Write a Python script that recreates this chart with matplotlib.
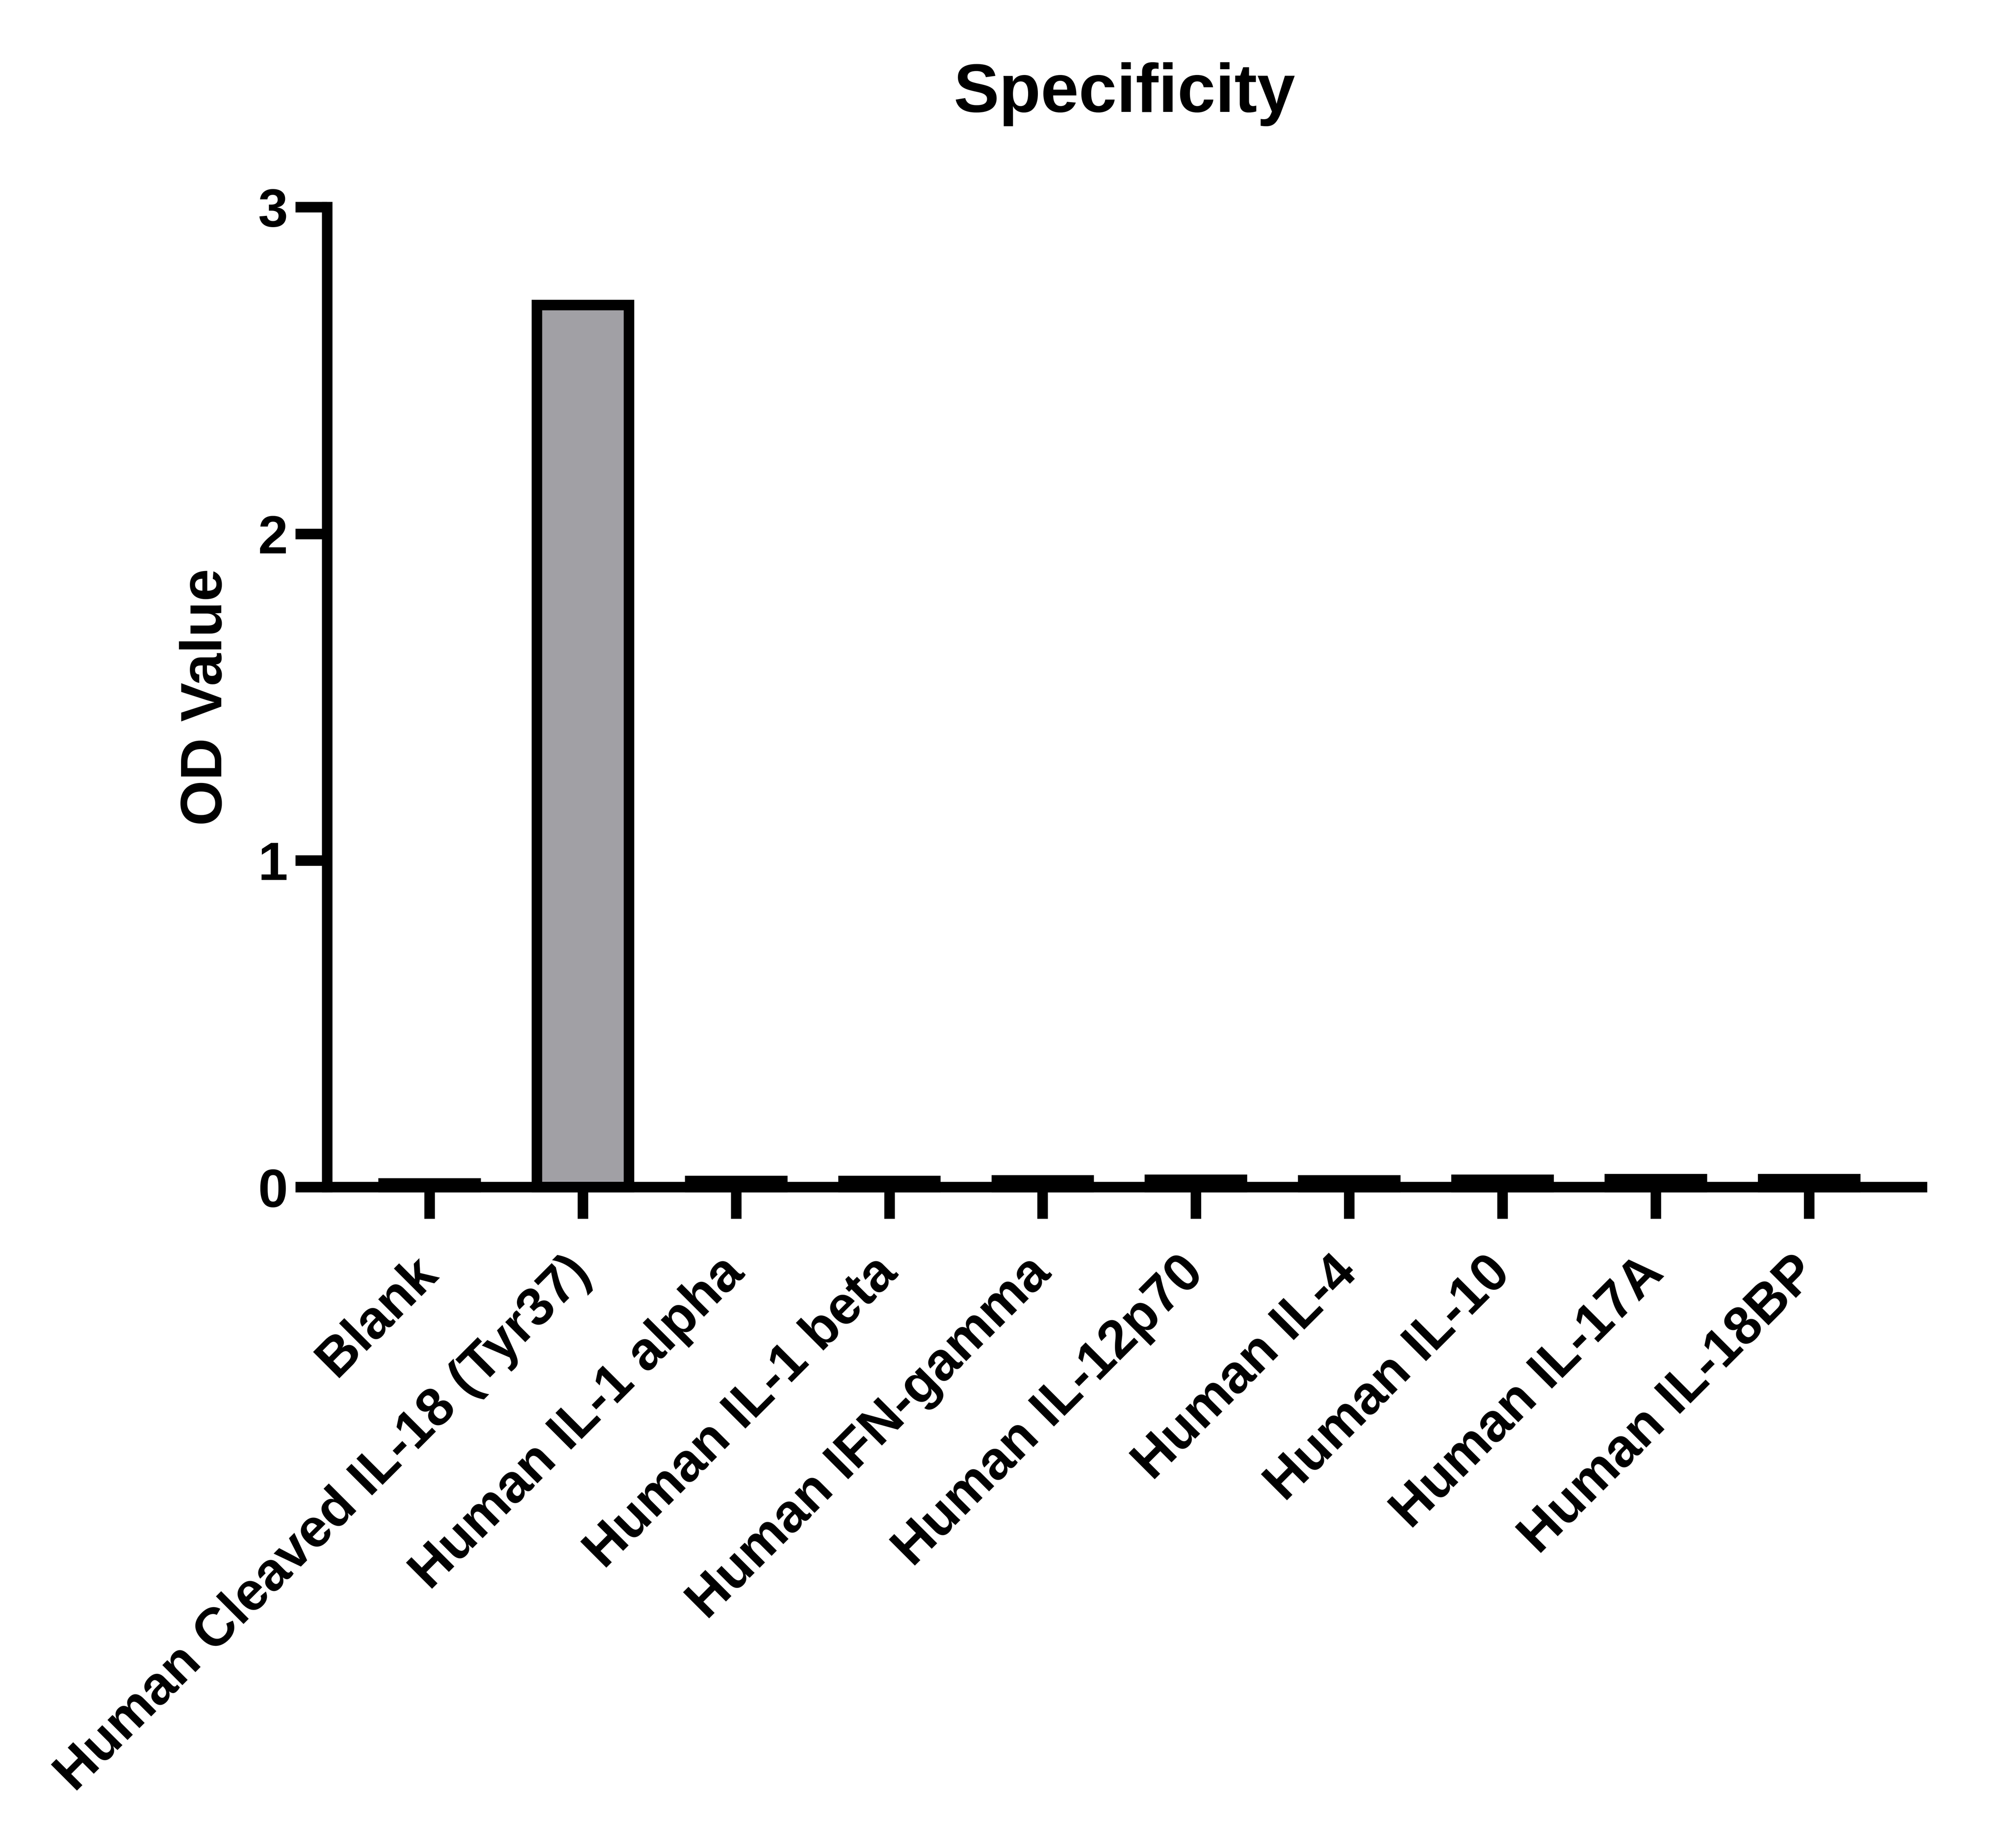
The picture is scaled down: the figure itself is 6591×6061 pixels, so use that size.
import matplotlib
matplotlib.use("Agg")
import matplotlib.pyplot as plt

plt.rcParams['font.family'] = ['Liberation Sans', 'DejaVu Sans']
plt.rcParams['font.weight'] = 'bold'

# OD readings per sample
categories = ["Blank", "Human Cleaved IL-18 (Tyr37)", "Human IL-1 alpha",
              "Human IL-1 beta", "Human IFN-gamma", "Human IL-12p70",
              "Human IL-4", "Human IL-10", "Human IL-17A", "Human IL-18BP"]
od_values = [0.012, 2.70, 0.019, 0.019, 0.021, 0.023, 0.021, 0.023, 0.025, 0.025]
y_ticks = [0, 1, 2, 3]

lw = 4.32
fig = plt.figure(figsize=(6866 / 600, 6314 / 600), dpi=576)
ax = fig.add_axes([0.1628, 0.3576, 0.9566 - 0.1628, 0.8879 - 0.3576])

x = list(range(len(categories)))
ax.bar(x, od_values, width=0.6, color="#a1a0a5", edgecolor="black",
       linewidth=lw, zorder=3, clip_on=False)

ax.set_xlim(-0.668, 9.737)
ax.set_ylim(0, 3)
ax.set_yticks(y_ticks)
ax.set_xticks(x)
ax.set_xticklabels(categories, rotation=45, ha="right", va="center",
                   rotation_mode="anchor", fontsize=22, fontweight="bold")
ax.tick_params(axis="x", length=13, width=lw, pad=19)
ax.tick_params(axis="y", length=13, width=lw, pad=3, labelsize=22)

for side in ["top", "right"]:
    ax.spines[side].set_visible(False)
for side in ["left", "bottom"]:
    ax.spines[side].set_linewidth(lw)
    ax.spines[side].set_capstyle("projecting")
    ax.spines[side].set_zorder(4)

ax.set_ylabel("OD Value", fontsize=24, fontweight="bold", labelpad=10)
ax.set_title("Specificity", fontsize=28, fontweight="bold", pad=39)

# 576 dpi keeps the file under the 40M pixel reader limit
fig.savefig("out.png", dpi=576)
